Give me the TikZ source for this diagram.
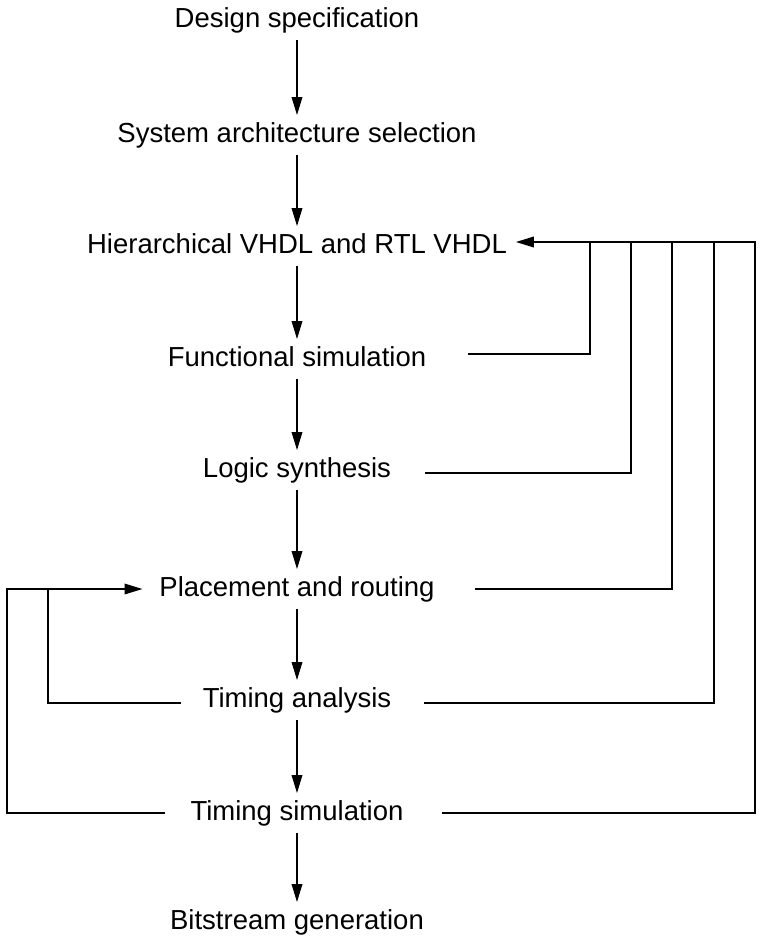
\documentclass[tikz,border=0pt]{standalone}
\usepackage{fontspec}
\setmainfont{Liberation Sans}
\usetikzlibrary{arrows.meta}
\begin{document}
\begin{tikzpicture}[x=1pt,y=-1pt,line width=1.8pt,
    >={Triangle[length=18pt,width=10.5pt]}]
        \useasboundingbox (0,0) rectangle (763,940);

        \begin{scope}[every node/.style={font=\fontsize{27.5}{33}\selectfont,
            text height=20pt,text depth=6pt,inner sep=6pt}]
          \node (spec)    at (297,20)  {Design specification};
          \node (arch)    at (297,135) {System architecture selection};
          \node (hdl)     at (297,246) {Hierarchical VHDL and RTL VHDL};
          \node (funcsim) at (297,359) {Functional simulation};
          \node (synth)   at (297,470) {Logic synthesis};
          \node (place)   at (297,589) {Placement and routing};
          \node (timing)  at (297,700) {Timing analysis};
          \node (timsim)  at (297,813) {Timing simulation};
          \node (bitgen)  at (297,922) {Bitstream generation};
        \end{scope}

        \begin{scope}[every edge/.style={draw,->}]
          \path (spec)    edge (arch);
          \path (arch)    edge (hdl);
          \path (hdl)     edge (funcsim);
          \path (funcsim) edge (synth);
          \path (synth)   edge (place);
          \path (place)   edge (timing);
          \path (timing)  edge (timsim);
          \path (timsim)  edge (bitgen);
        \end{scope}

        \coordinate (hdl in)   at ([shift={(2,-4)}]hdl.east);
        \coordinate (place in) at ([xshift=-10]place.west);

        % back to the HDL description
        \draw[->] ([xshift=32]timsim.east) -| (755,0 |- hdl in) -- (hdl in);
        \draw ([shift={(35,-5)}]funcsim.east) -| (590,0 |- hdl in);
        \draw ([shift={(27,3)}]synth.east)    -| (631,0 |- hdl in);
        \draw ([xshift=34]place.east)         -| (672,0 |- hdl in);
        \draw ([shift={(26,3)}]timing.east)   -| (714,0 |- hdl in);

        % back to placement and routing
        \draw[->] ([xshift=-19]timsim.west) -| (7,0 |- place in) -- (place in);
        \draw ([shift={(-15,3)}]timing.west) -| (48,0 |- place in);

      \end{tikzpicture}
\end{document}
